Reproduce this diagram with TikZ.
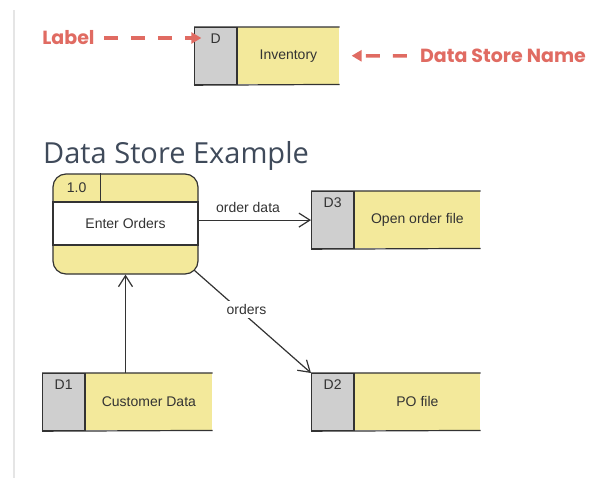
\documentclass[tikz,border=0pt]{standalone}
\usepackage{fontspec}
\setmainfont{Liberation Sans}
\newfontfamily\titlefont{Open Sans}
\newfontfamily\calloutfont{Poppins}
\usepackage{tikz}
\definecolor{storeyellow}{HTML}{F3E99B}
\definecolor{storegrey}{HTML}{CFCFCF}
\definecolor{calloutred}{HTML}{E06B62}
\definecolor{titleslate}{HTML}{3F4A5A}
\definecolor{rulegrey}{HTML}{E5E5E5}
\definecolor{edgegrey}{HTML}{333333}
\usetikzlibrary{positioning, arrows.meta}
\tikzstyle{flow} = [line width=1.2pt, draw=edgegrey, ->, >={Straight Barb[length=11pt,width=14pt]}]
\tikzstyle{callout} = [line width=3.5pt, draw=calloutred, dash pattern=on 14pt off 13pt, -{Triangle[length=10pt,width=11pt]}]

% grey id cell + yellow name cell, open on the right
\newcommand{\datastore}[6]{%
  \node[idbox, anchor=north west] (#1-id) at (#2,#3) {};
  \node[namebox, minimum width=#4, anchor=north west] (#1) at (#1-id.north east) {#6};
  \node[idtext] (#1-lbl) at ([yshift=-16pt]#1-id.north) {#5};
  \draw[border] (#1-id.north west) -- (#1.north east) (#1-id.south west) -- (#1.south east)
    (#1-id.north east) -- (#1-id.south east);
}

\begin{document}
\begin{tikzpicture}[x=1pt, y=-1pt]
    \tikzstyle{every node}=[font=\fontsize{14}{16}\selectfont, text=edgegrey]
    \tikzstyle{border} = [draw=edgegrey, line width=1.2pt]
    \tikzstyle{idbox} = [border, fill=storegrey, minimum width=42, minimum height=57, inner sep=0]
    \tikzstyle{namebox} = [fill=storeyellow, minimum height=57, inner sep=0]
    \tikzstyle{idtext} = [anchor=base, inner sep=0]
    \tikzstyle{procbox} = [border, rounded corners=13pt, fill=storeyellow, minimum width=145, minimum height=100]
    \tikzstyle{procband} = [border, fill=white, minimum width=145, minimum height=43, inner sep=0]
    \tikzstyle{callouttext} = [font=\calloutfont\bfseries\fontsize{19}{22}\selectfont, text=calloutred, inner sep=0]

    \useasboundingbox (0,0) rectangle (603,479);
    \draw[rulegrey, line width=2pt] (14,10) -- (14,478);

    \datastore{top}{194}{27}{102}{D}{Inventory}
    \node[callouttext] (labeltag) at (68.5,38) {Label};
    \node[callouttext] (nametag) at (503,56) {Data Store Name};
    \draw[callout, shorten <=9pt, shorten >=9pt] (labeltag.east) -- (labeltag.east -| top-lbl.west);
    \draw[callout, shorten <=13pt, shorten >=12pt] (nametag.west) -- (top.east);

    \node[anchor=base west, font=\titlefont\fontsize{29}{34}\selectfont, text=titleslate, inner sep=0] (title) at (43,163) {Data Store Example};

    \node[procbox] (proc) at (125.5,224) {};
    \node[procband] (proc-name) at (125.5,223.5) {Enter Orders};
    \node[anchor=north west, minimum width=48, minimum height=28, inner sep=0] (proc-id) at (proc.north west) {1.0};
    \draw[border] (proc-id.north east) -- (proc-id.south east);

    \datastore{d3}{311}{191}{126}{D3}{Open order file}
    \datastore{d1}{42}{373}{127}{D1}{Customer Data}
    \datastore{d2}{311}{373}{126}{D2}{PO file}

    \coordinate (proc-corner) at (194,270);
    \draw[flow] (proc.east |- d3-id.west) -- node[pos=0.44, above=4pt] (orderdata) {order data} (d3-id.west);
    \draw[flow] (proc-corner) -- node[pos=0.38, xshift=8pt, fill=white] (orders) {orders} (d2-id.north west);
    \draw[flow] (proc.south |- d1.north) -- (proc.south);
\end{tikzpicture}
\end{document}
